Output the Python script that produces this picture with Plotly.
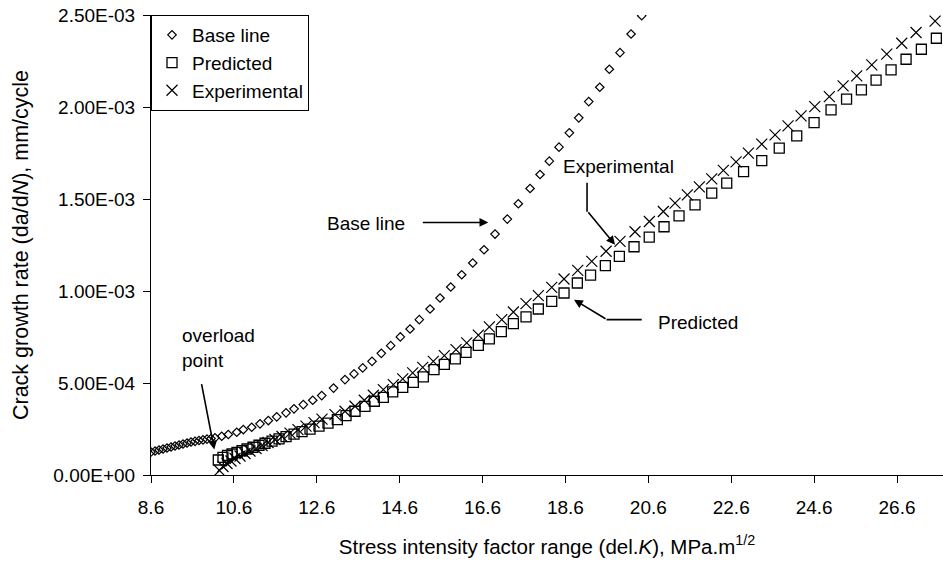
import plotly.graph_objects as go

# ---- data (x: del.K in MPa.m^1/2, y: da/dN in units of 1e-4 mm/cycle) ----
UNIT = 1e-4

base_x = [8.600, 8.697, 8.793, 8.890, 8.986, 9.083, 9.179, 9.276, 9.372, 9.469,
          9.565, 9.662, 9.758, 9.855, 9.951, 10.048, 10.144, 10.306, 10.465, 10.668,
          10.827, 11.030, 11.230, 11.431, 11.633, 11.858, 12.051, 12.275, 12.502, 12.719,
          13.004, 13.281, 13.499, 13.708, 13.933, 14.157, 14.384, 14.616, 14.850, 15.074,
          15.333, 15.574, 15.832, 16.097, 16.363, 16.636, 16.901, 17.198, 17.463, 17.746,
          17.987, 18.211, 18.445, 18.694, 18.921, 19.162, 19.428, 19.659, 19.917, 20.183,
          20.441]
base_y = [1.249, 1.303, 1.357, 1.412, 1.466, 1.520, 1.574, 1.629, 1.683, 1.737,
          1.792, 1.830, 1.873, 1.911, 1.949, 1.982, 2.020, 2.106, 2.199, 2.324,
          2.470, 2.595, 2.780, 2.959, 3.160, 3.377, 3.594, 3.827, 4.061, 4.316,
          4.723, 5.185, 5.494, 5.820, 6.178, 6.613, 7.031, 7.503, 7.937, 8.442,
          9.023, 9.620, 10.217, 10.885, 11.520, 12.242, 13.095, 13.909, 14.740, 15.570,
          16.330, 17.058, 17.818, 18.594, 19.409, 20.293, 21.075, 22.053, 22.954, 23.969,
          24.963]

pred_x = [10.224, 10.337, 10.446, 10.555, 10.675, 10.796, 10.917, 11.061, 11.206, 11.351,
          11.520, 11.689, 11.858, 12.051, 12.244, 12.437, 12.654, 12.871, 13.096, 13.306,
          13.523, 13.764, 13.988, 14.206, 14.432, 14.674, 14.930, 15.171, 15.429, 15.678,
          15.943, 16.201, 16.498, 16.764, 17.053, 17.343, 17.649, 17.946, 18.269, 18.566,
          18.887, 19.206, 19.563, 19.901, 20.255, 20.622, 20.979, 21.341, 21.727, 22.130,
          22.492, 22.898, 23.337, 23.759, 24.181, 24.599, 25.009, 25.383, 25.741, 26.095,
          26.457, 26.819, 27.188, 27.550]
pred_y = [0.814, 0.961, 1.059, 1.140, 1.232, 1.319, 1.412, 1.509, 1.618, 1.726,
          1.846, 1.965, 2.090, 2.226, 2.362, 2.497, 2.660, 2.823, 3.013, 3.230,
          3.464, 3.735, 4.007, 4.224, 4.517, 4.767, 5.038, 5.331, 5.728, 6.015,
          6.309, 6.667, 7.047, 7.394, 7.791, 8.225, 8.589, 9.023, 9.436, 9.892,
          10.434, 10.858, 11.374, 11.879, 12.405, 12.932, 13.491, 14.088, 14.685, 15.321,
          15.864, 16.493, 17.090, 17.764, 18.432, 19.154, 19.843, 20.424, 20.929, 21.456,
          22.015, 22.596, 23.139, 23.736]

exp_x = [10.253, 10.337, 10.434, 10.530, 10.627, 10.748, 10.868, 10.989, 11.134, 11.279,
         11.423, 11.592, 11.761, 11.954, 12.147, 12.340, 12.533, 12.726, 13.040, 13.281,
         13.523, 13.747, 13.964, 14.206, 14.447, 14.674, 14.915, 15.156, 15.412, 15.678,
         15.960, 16.218, 16.498, 16.764, 17.063, 17.343, 17.649, 17.946, 18.269, 18.566,
         18.897, 19.235, 19.580, 19.917, 20.279, 20.625, 20.962, 21.245, 21.541, 21.831,
         22.130, 22.410, 22.717, 23.014, 23.337, 23.658, 23.971, 24.285, 24.616, 24.968,
         25.299, 25.629, 25.991, 26.353, 26.715, 27.060, 27.519]
exp_y = [0.244, 0.461, 0.624, 0.760, 0.896, 1.032, 1.167, 1.303, 1.439, 1.602,
         1.764, 1.927, 2.090, 2.280, 2.470, 2.660, 2.850, 3.040, 3.285, 3.464,
         3.735, 4.061, 4.332, 4.642, 4.913, 5.223, 5.548, 5.852, 6.178, 6.488,
         6.813, 7.177, 7.601, 8.046, 8.442, 8.860, 9.311, 9.745, 10.196, 10.652,
         11.119, 11.607, 12.161, 12.693, 13.220, 13.779, 14.322, 14.778, 15.228, 15.663,
         16.097, 16.558, 17.020, 17.492, 17.981, 18.486, 18.974, 19.517, 20.022, 20.565,
         21.146, 21.689, 22.286, 22.872, 23.464, 24.050, 24.664]

x_tickvals = [8.6, 10.6, 12.6, 14.6, 16.6, 18.6, 20.6, 22.6, 24.6, 26.6]
x_ticktext = ["8.6", "10.6", "12.6", "14.6", "16.6", "18.6", "20.6", "22.6", "24.6", "26.6"]
y_tickvals = [0, 5e-4, 1e-3, 1.5e-3, 2e-3, 2.5e-3]
y_ticktext = ["0.00E+00", "5.00E-04", "1.00E-03", "1.50E-03", "2.00E-03", "2.50E-03"]

FONT = "Liberation Sans, Arial, sans-serif"
BLACK = "#000000"

fig = go.Figure()
fig.add_trace(go.Scatter(
    x=base_x, y=[v * UNIT for v in base_y], mode="markers", name="Base line",
    marker=dict(symbol="diamond-open", size=6.5, color=BLACK, line=dict(width=1.2, color=BLACK))))
fig.add_trace(go.Scatter(
    x=pred_x, y=[v * UNIT for v in pred_y], mode="markers", name="Predicted",
    marker=dict(symbol="square-open", size=10, color=BLACK, line=dict(width=1.3, color=BLACK))))
fig.add_trace(go.Scatter(
    x=exp_x, y=[v * UNIT for v in exp_y], mode="markers", name="Experimental",
    marker=dict(symbol="x-thin-open", size=11, color=BLACK, line=dict(width=1.2, color=BLACK))))

ann_font = dict(family=FONT, size=19, color=BLACK)
arrow = dict(showarrow=True, arrowhead=2, arrowsize=1.1, arrowwidth=1.6, arrowcolor=BLACK)
annotations = [
    dict(x=13.788, y=1.365e-3, text="Base line", showarrow=False, font=ann_font),
    dict(x=16.739, y=1.3725e-3, text="", ax=-67, ay=0, **arrow),
    dict(x=19.869, y=1.675e-3, text="Experimental", showarrow=False, font=ann_font),
    dict(x=19.797, y=1.2514e-3, text="", ax=-28, ay=-34, **arrow),
    dict(x=21.788, y=8.263e-4, text="Predicted", showarrow=False, font=ann_font),
    dict(x=18.807, y=9.528e-4, text="", ax=33, ay=20, **arrow),
    dict(x=9.300, y=7.573e-4, text="overload", showarrow=False, xanchor="left", font=ann_font),
    dict(x=9.300, y=6.216e-4, text="point", showarrow=False, xanchor="left", font=ann_font),
    dict(x=10.127, y=1.384e-4, text="", ax=-13, ay=-67, **arrow),
]
shapes = [
    dict(type="line", xref="x", yref="y", x0=19.121, x1=19.121, y0=1.588e-3, y1=1.4305e-3,
         line=dict(color=BLACK, width=1.6)),
    dict(type="line", xref="x", yref="y", x0=19.592, x1=20.441, y0=8.442e-4, y1=8.442e-4,
         line=dict(color=BLACK, width=1.6)),
]

fig.update_layout(
    width=943, height=565,
    margin=dict(l=151, r=0, t=15, b=90),
    paper_bgcolor="white", plot_bgcolor="white",
    font=dict(family=FONT, size=19, color=BLACK),
    showlegend=True,
    legend=dict(x=0, y=1, xanchor="left", yanchor="top",
                bgcolor="white", bordercolor=BLACK, borderwidth=1,
                font=dict(family=FONT, size=19, color=BLACK),
                itemwidth=30),
    annotations=annotations,
    shapes=shapes,
)
fig.update_xaxes(
    range=[8.6, 27.71], tickmode="array", tickvals=x_tickvals, ticktext=x_ticktext,
    showgrid=False, zeroline=False, showline=True, linecolor=BLACK, linewidth=1,
    ticks="outside", ticklen=7, tickcolor=BLACK, tickwidth=1,
    ticklabelstandoff=8,
    tickfont=dict(family=FONT, size=19, color=BLACK),
    title=dict(text="Stress intensity factor range (del.<i>K</i>), MPa.m<sup>1/2</sup>",
               font=dict(family=FONT, size=20.5, color=BLACK), standoff=22),
)
fig.update_yaxes(
    range=[0, 2.5e-3], tickmode="array", tickvals=y_tickvals, ticktext=y_ticktext,
    showgrid=False, zeroline=False, showline=True, linecolor=BLACK, linewidth=1,
    ticks="outside", ticklen=7, tickcolor=BLACK, tickwidth=1,
    ticklabelstandoff=4,
    tickfont=dict(family=FONT, size=19, color=BLACK),
    title=dict(text="Crack growth rate (da/d<i>N</i>), mm/cycle",
               font=dict(family=FONT, size=21.5, color=BLACK), standoff=18),
)

fig.write_html("out.html")
